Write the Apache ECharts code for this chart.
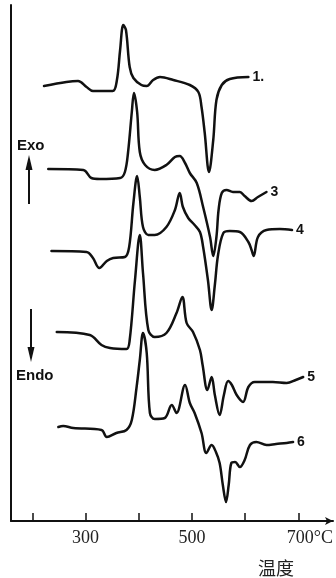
<!DOCTYPE html>
<html><head><meta charset="utf-8">
<script src="https://cdn.jsdelivr.net/npm/echarts@6/dist/echarts.min.js"></script>
<style>html,body{margin:0;padding:0;background:#fff}#c{width:336px;height:578px}</style>
</head><body><div id="c"></div>
<script>
// Curve labels (as printed at the right end of each DTA trace)
const curveLabels = ['1.', '3', '4', '5', '6'];
// Temperatures (°C) and signal (arbitrary, offset per curve)
const t1 = [222,264,286,302,314,351,359,365,371,376,383,390,405,415,427,440,465,496,512,518,524,532,540,546,556,571,606];
const s1 = [435,439,440,434,430,430,441,471,496,491,454,443,436,435,441,444,441,436,429,414,388,349,381,421,436,442,444];
const t2 = [230,296,311,327,365,374,380,387,391,397,402,412,430,452,468,477,487,496,509,521,534,540,546,550,556,565,577,590,599,612,624,640];
const s2 = [352,351,343,342,343,349,369,409,428,409,369,356,351,356,364,365,358,348,338,314,284,265,284,311,328,331,329,329,325,320,324,329];
const t3 = [236,302,314,326,340,352,374,382,390,397,402,408,418,430,452,468,477,483,493,505,515,521,530,537,543,549,559,571,590,606,612,616,624,640,665,688];
const s3 = [270,269,263,253,260,263,264,274,318,345,324,294,286,286,294,311,328,314,303,296,289,274,241,211,236,266,288,290,289,279,271,265,284,291,292,291];
const t4 = [246,308,330,346,377,383,393,402,408,418,430,452,471,482,490,502,515,520,529,537,543,552,560,568,575,584,596,606,618,628,652,678,695,709];
const s4 = [189,186,176,173,172,181,241,286,248,191,184,188,208,224,198,189,171,156,131,144,126,106,126,140,136,126,119,134,139,139,139,138,141,144];
const t5 = [249,258,277,330,340,358,377,387,396,402,408,415,421,430,449,462,471,487,496,505,518,527,537,545,552,558,564,569,574,581,590,599,609,621,640,658,678,690];
const s5 = [94,95,93,91,84,88,91,101,134,161,188,168,108,102,103,116,108,136,118,108,88,68,76,69,58,36,19,36,58,59,54,61,76,79,76,77,78,79];
const xTicks = [200,300,400,500,600,700];
const xTickLabels = [300,500,700];

const temps = [t1,t2,t3,t4,t5];
const sigs = [s1,s2,s3,s4,s5];

const series = temps.map((t, k) => ({
  type: 'line',
  name: curveLabels[k],
  data: t.map((x, i) => [x, sigs[k][i]]),
  showSymbol: false,
  smooth: 0.35,
  lineStyle: { color: '#111', width: 2.5, join: 'round', cap: 'round' },
  endLabel: {
    show: true, formatter: curveLabels[k], distance: 4,
    fontFamily: 'Liberation Sans', fontWeight: 'bold', fontSize: 14, color: '#111'
  },
  animation: false
}));

const chart = echarts.init(document.getElementById('c'));
chart.setOption({
  animation: false,
  backgroundColor: '#fff',
  grid: { left: 11, top: 5, width: 322, height: 516, outerBoundsMode: 'none', containLabel: false },
  xAxis: {
    type: 'value', min: 160, max: 765,
    axisLine: { show: true, lineStyle: { color: '#111', width: 2 }, symbol: ['none', 'arrow'], symbolSize: [6, 8] },
    axisTick: { show: true, inside: true, length: 8, customValues: xTicks, lineStyle: { color: '#111', width: 1.5 } },
    axisLabel: {
      customValues: xTickLabels, margin: 8,
      fontFamily: 'Liberation Serif', fontSize: 18, color: '#222',
      formatter: v => v === 700 ? '{p|}{t|700°C}' : String(v),
      rich: { p: { width: 23 }, t: { fontFamily: 'Liberation Serif', fontSize: 18, color: '#222' } }
    },
    splitLine: { show: false }
  },
  yAxis: {
    type: 'value', min: 0, max: 516,
    axisLine: { show: true, lineStyle: { color: '#111', width: 2 } },
    axisTick: { show: false }, axisLabel: { show: false }, splitLine: { show: false }
  },
  series: series,
  graphic: [
    { type: 'text', left: 17, top: 138, style: { text: 'Exo', font: 'bold 15px "Liberation Sans"', fill: '#111' } },
    { type: 'line', shape: { x1: 29, y1: 204, x2: 29, y2: 166 }, style: { stroke: '#111', lineWidth: 2 } },
    { type: 'polygon', shape: { points: [[29, 155], [25.5, 170], [32.5, 170]] }, style: { fill: '#111' } },
    { type: 'line', shape: { x1: 31, y1: 309, x2: 31, y2: 350 }, style: { stroke: '#111', lineWidth: 2 } },
    { type: 'polygon', shape: { points: [[31, 362], [27.5, 347], [34.5, 347]] }, style: { fill: '#111' } },
    { type: 'text', left: 16, top: 368, style: { text: 'Endo', font: 'bold 15px "Liberation Sans"', fill: '#111' } },
    { type: 'text', left: 258, top: 559, style: { text: '温度', font: '18px "Noto Sans CJK SC"', fill: '#222' } }
  ]
});
</script>
</body></html>
